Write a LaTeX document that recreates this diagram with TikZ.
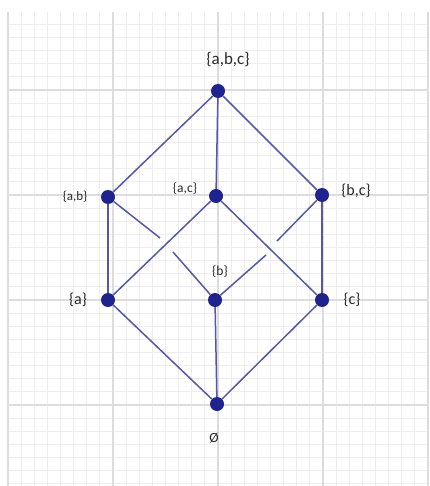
\documentclass[tikz,border=0pt]{standalone}
\usepackage{fontspec}
\setmainfont{Carlito}
\usetikzlibrary{calc}
\definecolor{ink}{HTML}{2A2A2A}
\definecolor{navy}{HTML}{1E2390}
\definecolor{edge}{HTML}{5656AA}
\definecolor{minor}{HTML}{EEEEEE}
\definecolor{major}{HTML}{DDDDDD}

\begin{document}
\begin{tikzpicture}[x=1pt,y=-1pt,text=ink,
    dot/.style={circle,fill=navy,inner sep=0pt,minimum size=14pt},
    link/.style={edge,line width=1.5pt},
    lab/.style={inner sep=0pt,font=\fontsize{#1}{#1}\selectfont}]
  \useasboundingbox (0,0) rectangle (429,486);

  % grid paper
  \foreach \k in {1,...,36}
    \draw[minor,line width=1.2pt] (8,11.25+13.125*\k)--(428,11.25+13.125*\k);
  \foreach \k in {0,...,32}
    \draw[minor,line width=1.2pt] (8+13.125*\k,12)--(8+13.125*\k,486);
  \foreach \x in {8,113,218,323,428}
    \draw[major,line width=1.2pt] (\x,12)--(\x,486);
  \foreach \y in {90,195,300,405}
    \draw[major,line width=1.2pt] (8,\y)--(428,\y);

  % elements of the lattice
  \node[dot] (abc) at (218,91) {};
  \node[dot] (ab) at (108,197) {};
  \node[dot] (ac) at (216,196) {};
  \node[dot] (bc) at (322,195) {};
  \node[dot] (a) at (108,300) {};
  \node[dot] (b) at (215,300) {};
  \node[dot] (c) at (322,300) {};
  \node[dot] (e) at (217,404) {};

  % gaps where two links cross
  \coordinate (gl1) at (160,238);
  \coordinate (gl2) at (173,252);
  \coordinate (gr1) at (277,241);
  \coordinate (gr2) at (266,255);

  \draw[link] (abc)--(ab);
  \draw[link] (abc)--(ac);
  \draw[link] (abc)--(bc);
  \draw[link] (ab)--(a);
  \draw[link] (ab)--(gl1);
  \draw[link] (gl2)--(b);
  \draw[link] (ac)--(a);
  \draw[link] (ac)--(c);
  \draw[link] (bc)--(gr1);
  \draw[link] (gr2)--(b);
  \draw[link] (bc)--(c);
  \draw[link] (a)--(e);
  \draw[link] (b)--(e);
  \draw[link] (c)--(e);

  % set labels
  \node[lab=17] (labc) at (228,60) {\{a,b,c\}};
  \node[lab=13] (lab) at (75,197) {\{a,b\}};
  \node[lab=13.5] (lac) at (185,189) {\{a,c\}};
  \node[lab=16] (lbc) at (356,191) {\{b,c\}};
  \node[lab=16] (la) at (78,300) {\{a\}};
  \node[lab=13.5] (lb) at (220,272) {\{b\}};
  \node[lab=16] (lc) at (352,300) {\{c\}};
  \node[lab=14] (le) at (214,438) {Ø};
\end{tikzpicture}
\end{document}
